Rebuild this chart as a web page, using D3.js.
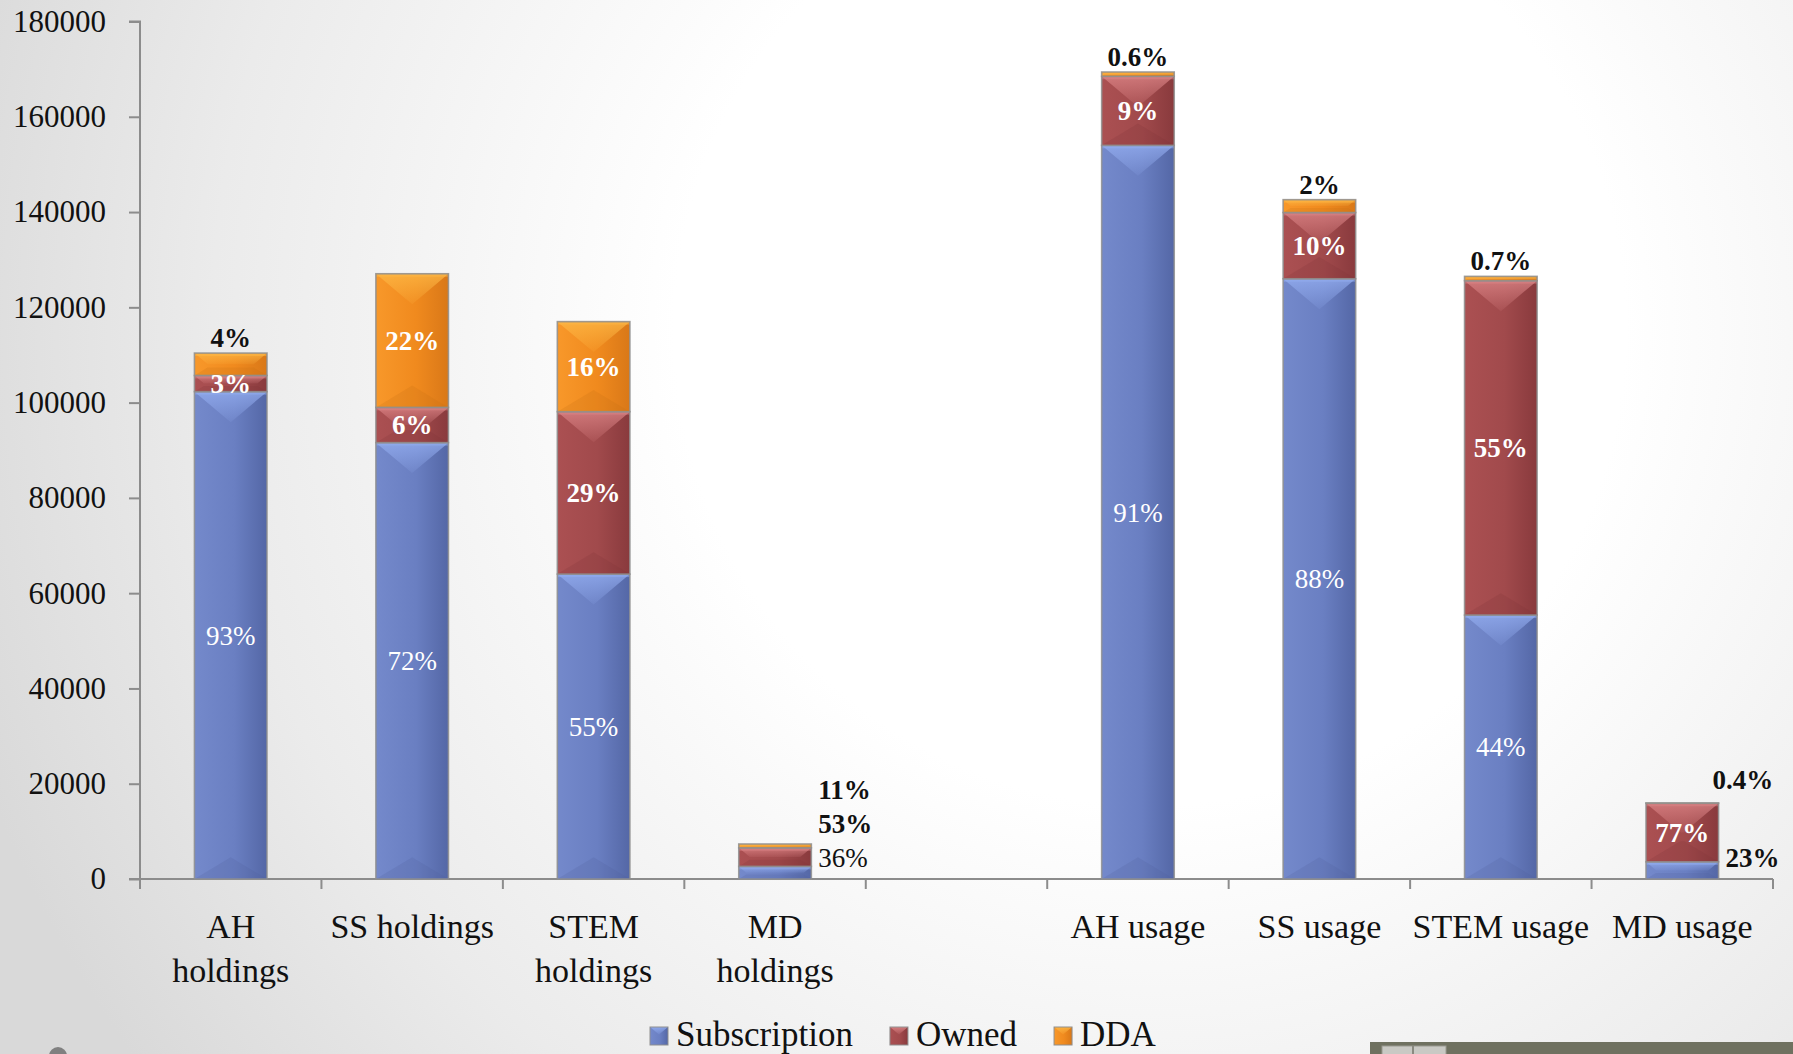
<!DOCTYPE html>
<html><head><meta charset="utf-8">
<script src="https://cdn.jsdelivr.net/npm/d3@7"></script>
<style>html,body{margin:0;padding:0;overflow:hidden;background:#fff}svg{display:block}</style>
</head><body>
<svg id="chart" width="1793" height="1054"></svg>
<script>
// ---------------- data ----------------
const categories = ["AH holdings","SS holdings","STEM holdings","MD holdings","","AH usage","SS usage","STEM usage","MD usage"];
const categoryLabels = [["AH","holdings"],["SS holdings"],["STEM","holdings"],["MD","holdings"],[],["AH usage"],["SS usage"],["STEM usage"],["MD usage"]];
const seriesNames = ["Subscription","Owned","DDA"];
const subscription = [102300, 91600, 64000, 2650, 0, 154000, 126000, 55400, 3600];
const owned        = [3400,   7400,  34100, 3900, 0, 14500,  13900,  70200, 12300];
const dda          = [4700,   28050, 18900, 800,  0, 900,    2700,   900,   65];
const subscriptionLabels = ["93%","72%","55%","36%","","91%","88%","44%","23%"];
const ownedLabels        = ["3%","6%","29%","53%","","9%","10%","55%","77%"];
const ddaLabels          = ["4%","22%","16%","11%","","0.6%","2%","0.7%","0.4%"];
const yTicks = [0,20000,40000,60000,80000,100000,120000,140000,160000,180000];

// ---------------- presentation ----------------
const subPlace   = ["in","in","in","right","","in","in","in","right"];
const ownedPlace = ["in","in","in","right","","in","in","in","in"];
const ddaPlace   = ["above","in","in","right","","above","above","above","aboveRight"];
const subBold    = [false,false,false,false,false,false,false,false,true];

const W = 1793, H = 1054;
const M = {left:140, right:20, top:21.5, bottom:173};
const svg = d3.select("#chart");
const defs = svg.append("defs");

// background
const bg = defs.append("radialGradient").attr("id","bg")
  .attr("gradientUnits","userSpaceOnUse").attr("cx",1150).attr("cy",330).attr("r",1250);
bg.append("stop").attr("offset",0).attr("stop-color","#ffffff");
bg.append("stop").attr("offset",0.38).attr("stop-color","#ffffff");
bg.append("stop").attr("offset",0.75).attr("stop-color","#ebebeb");
bg.append("stop").attr("offset",1).attr("stop-color","#d9d9d9");
svg.append("rect").attr("width",W).attr("height",H).attr("fill","url(#bg)");

const palette = {
  Subscription:{left:"#7489cb", mid:"#6a7fc2", right:"#5467a6", top:"#93adf0", bot:"#4e5f9c"},
  Owned:{left:"#ab5052", mid:"#a14a4c", right:"#893a3d", top:"#dc8587", bot:"#7f3437"},
  DDA:{left:"#f8982a", mid:"#f08a1e", right:"#d97818", top:"#fdb845", bot:"#c56d14"}
};
seriesNames.forEach(s=>{
  const g = defs.append("linearGradient").attr("id","g-"+s).attr("x1",0).attr("x2",1).attr("y1",0).attr("y2",0);
  g.append("stop").attr("offset",0).attr("stop-color",palette[s].left);
  g.append("stop").attr("offset",0.55).attr("stop-color",palette[s].mid);
  g.append("stop").attr("offset",1).attr("stop-color",palette[s].right);
  const t = defs.append("linearGradient").attr("id","t-"+s).attr("x1",0).attr("x2",0).attr("y1",0).attr("y2",1);
  t.append("stop").attr("offset",0).attr("stop-color",palette[s].top).attr("stop-opacity",0.95);
  t.append("stop").attr("offset",1).attr("stop-color",palette[s].top).attr("stop-opacity",0.15);
});

const x = d3.scaleBand().domain(categories.map((c,i)=>i)).range([M.left, W - M.right]).padding(0);
const y = d3.scaleLinear().domain([0,180000]).range([H - M.bottom - 2, M.top]);
const barW = x.bandwidth()*0.4;

const rows = categories.map((c,i)=>({i, Subscription:subscription[i], Owned:owned[i], DDA:dda[i]}));
const stack = d3.stack().keys(seriesNames)(rows);

const FONT = "'Liberation Serif','Times New Roman',serif";

// y axis
const yAxis = d3.axisLeft(y).tickValues(yTicks).tickSize(11).tickPadding(23).tickFormat(d3.format("d"));
const ya = svg.append("g").attr("transform",`translate(${M.left},0)`).call(yAxis);
ya.select(".domain").attr("stroke","#8c8c8c").attr("stroke-width",2).attr("d",`M-11,${y(180000)}H0V${y(0)}H-11`);
ya.selectAll(".tick line").attr("stroke","#8c8c8c").attr("stroke-width",2);
ya.selectAll(".tick text").attr("font-family",FONT).attr("font-size",31).attr("fill","#111");

// x axis
const xa = svg.append("g");
xa.append("line").attr("x1",M.left).attr("x2",W-M.right).attr("y1",y(0)).attr("y2",y(0))
  .attr("stroke","#8c8c8c").attr("stroke-width",2);
const bounds = categories.map((c,i)=>x(i)).concat([x(categories.length-1)+x.bandwidth()]);
xa.selectAll("line.tk").data(bounds).join("line").attr("class","tk")
  .attr("x1",d=>d).attr("x2",d=>d).attr("y1",y(0)).attr("y2",y(0)+10)
  .attr("stroke","#8c8c8c").attr("stroke-width",2);
categoryLabels.forEach((lines,i)=>{
  const t = xa.append("text").attr("x",x(i)+x.bandwidth()/2).attr("y",938)
    .attr("text-anchor","middle").attr("font-family",FONT).attr("font-size",34).attr("fill","#111");
  lines.forEach((ln,k)=>t.append("tspan").attr("x",x(i)+x.bandwidth()/2).attr("dy",k?44:0).text(ln));
});

// bars
const SL = 0.84; // bevel slope
function bevelTop(x0,y0,w,h){
  const d = Math.min(w*0.42, h*0.5);
  return `M${x0},${y0}H${x0+w}L${x0+w-d/SL},${y0+d}H${x0+d/SL}Z`;
}
function bevelBot(x0,y0,w,h){
  const d = Math.min(w*0.3, h*0.35);
  return `M${x0},${y0+h}H${x0+w}L${x0+w-d/SL*1.4},${y0+h-d}H${x0+d/SL*1.4}Z`;
}
const barsG = svg.append("g");
stack.forEach(layer=>{
  const s = layer.key;
  layer.forEach((seg,i)=>{
    if(!categories[i]) return;
    const v = seg[1]-seg[0]; if(v<=0) return;
    const x0 = x(i)+(x.bandwidth()-barW)/2, y0 = y(seg[1]), h = y(seg[0])-y(seg[1]);
    const g = barsG.append("g");
    g.append("rect").attr("x",x0).attr("y",y0).attr("width",barW).attr("height",h).attr("fill",`url(#g-${s})`);
    g.append("path").attr("d",bevelTop(x0,y0,barW,h)).attr("fill",`url(#t-${s})`).attr("opacity",0.8);
    g.append("rect").attr("x",x0).attr("y",y0).attr("width",barW).attr("height",Math.min(3,h)).attr("fill",palette[s].top).attr("opacity",0.5);
    g.append("path").attr("d",bevelBot(x0,y0,barW,h)).attr("fill",palette[s].bot).attr("opacity",0.2);
    g.append("rect").attr("x",x0).attr("y",y0).attr("width",barW).attr("height",h)
      .attr("fill","none").attr("stroke","#8f8f8f").attr("stroke-width",1.6).attr("stroke-opacity",0.85);
  });
});

// labels
const labelG = svg.append("g").attr("font-family",FONT).attr("font-size",27);
const labelSets = {Subscription:[subscriptionLabels,subPlace], Owned:[ownedLabels,ownedPlace], DDA:[ddaLabels,ddaPlace]};
categories.forEach((c,i)=>{
  if(!c) return;
  const cx = x(i)+x.bandwidth()/2, right = cx+barW/2;
  let k = 0;
  stack.forEach(layer=>{
    const s = layer.key, seg = layer[i];
    const [labs, place] = labelSets[s];
    const txt = labs[i], p = place[i];
    const bold = s!=="Subscription" || subBold[i];
    const t = labelG.append("text").text(txt).attr("font-weight",bold?"bold":"normal");
    if(p==="in"){
      t.attr("x",cx).attr("y",(y(seg[0])+y(seg[1]))/2).attr("dy","0.35em")
       .attr("text-anchor","middle").attr("fill","#fff");
    } else if(p==="above"){
      t.attr("x",cx).attr("y",y(seg[1])-6).attr("text-anchor","middle").attr("fill","#111");
    } else if(p==="right"){
      t.attr("x",right+7).attr("y",y(0)-12-k*34).attr("text-anchor","start").attr("fill","#111");
      k++;
    } else if(p==="aboveRight"){
      t.attr("x",right-6).attr("y",y(seg[1])-14).attr("text-anchor","start").attr("fill","#111");
    }
  });
});

// legend
const legG = svg.append("g").attr("font-family",FONT).attr("font-size",35);
let lx = 650;
seriesNames.forEach(s=>{
  const g = legG.append("g");
  const sq = 18, sy = 1027;
  g.append("rect").attr("x",lx).attr("y",sy).attr("width",sq).attr("height",sq).attr("fill",`url(#g-${s})`);
  g.append("path").attr("d",bevelTop(lx,sy,sq,sq)).attr("fill",`url(#t-${s})`).attr("opacity",0.9);
  g.append("rect").attr("x",lx).attr("y",sy).attr("width",sq).attr("height",sq).attr("fill","none").attr("stroke","#8f8f8f").attr("stroke-width",1);
  const t = g.append("text").attr("x",lx+sq+8).attr("y",1046).attr("fill","#111").text(s);
  lx = lx + sq + 8 + t.node().getComputedTextLength() + 37;
});

// slide decorations
svg.append("circle").attr("cx",58).attr("cy",1056).attr("r",9).attr("fill","#808080");
svg.append("rect").attr("x",1370).attr("y",1042).attr("width",W-1370).attr("height",12).attr("fill","#6f7160");
svg.append("rect").attr("x",1382).attr("y",1046).attr("width",64).attr("height",10).attr("fill","#c9c9c4").attr("stroke","#9a9a90");
svg.append("line").attr("x1",1413).attr("x2",1413).attr("y1",1046).attr("y2",1054).attr("stroke","#8a8a80").attr("stroke-width",2);
</script>
</body></html>
